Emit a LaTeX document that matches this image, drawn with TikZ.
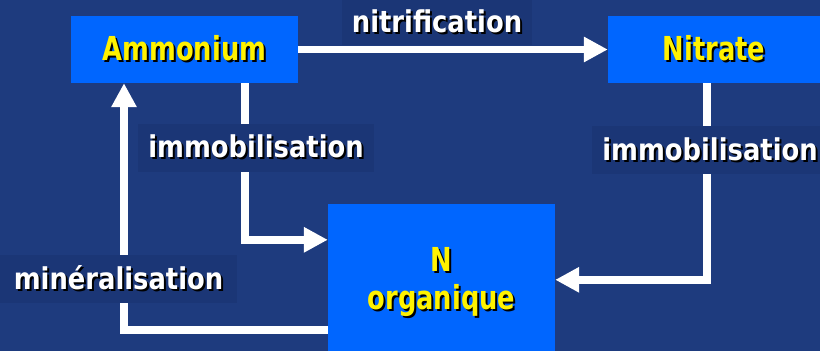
\documentclass[tikz,border=0pt]{standalone}
\usepackage{fontspec}
\setmainfont{DejaVu Sans}
\newfontfamily\boxfont{DejaVu Sans}[FakeStretch=0.78]
\newfontfamily\labfont{DejaVu Sans}[FakeStretch=0.86]
\usetikzlibrary{calc, arrows.meta}
\definecolor{bgblue}{RGB}{30,59,126}
\definecolor{labblue}{RGB}{27,54,118}
\definecolor{boxblue}{RGB}{0,102,255}
\newcommand{\shad}[1]{\rlap{\hspace{2pt}\raisebox{-2pt}{\color{black}#1}}#1}

\begin{document}
\begin{tikzpicture}[x=1pt, y=-1pt,
		box/.style={rectangle,fill=boxblue,minimum width=227pt,minimum height=67pt,inner sep=0pt,
			text=yellow,font=\boxfont\bfseries\fontsize{33}{38}\selectfont},
		lab/.style={rectangle,fill=labblue,minimum height=48pt,inner xsep=10pt,inner ysep=0pt,
			text=white,font=\labfont\bfseries\fontsize{30}{36}\selectfont},
		flow/.style={white,line width=7.5pt,-{Triangle[length=24pt,width=24pt]}}]
		\useasboundingbox (0,0) rectangle (820,351);
		\clip (0,0) rectangle (820,351);
		\fill[bgblue] (0,0) rectangle (820,351);
		\node[box] (amm) at (184.5,49.5) {\shad{Ammonium}};
		\node[box,minimum width=212pt] (nit) at (714,49.5) {\shad{Nitrate}};
		\node[box,minimum height=158pt,align=center] (norg) at (441.5,283) {\shad{N}\\\shad{organique}};
		\draw[flow] (amm) -- (nit);
		\draw[flow] ([xshift=60.5pt]amm.south) |- ([yshift=-36pt]norg.north west);
		\draw[flow] ([xshift=-7pt]nit.south) |- ([yshift=-76pt]norg.north east);
		\draw[flow] ([yshift=-126pt]norg.north west) -| ([xshift=-60.5pt]amm.south);
		\node[lab,minimum height=45pt] (lnit) at (437,22.5) {\shad{nitrification}};
		\node[lab,minimum width=228pt] (limm) at (256,147.5) {\shad{immobilisation}};
		\node[lab] (limmb) at (710,150) {\shad{immobilisation}};
		\node[lab,minimum width=237pt] (lmin) at (118.5,278.5) {\shad{minéralisation}};
\end{tikzpicture}
\end{document}
